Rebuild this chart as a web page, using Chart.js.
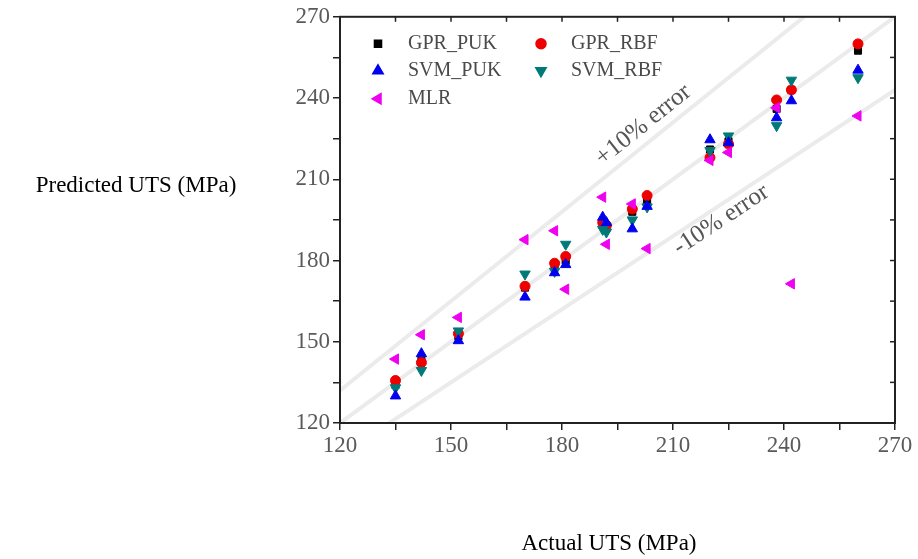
<!DOCTYPE html>
<html>
<head>
<meta charset="utf-8">
<script src="https://cdn.jsdelivr.net/npm/chart.js@4/dist/chart.umd.min.js"></script>
<style>
  html, body { margin: 0; padding: 0; background: #fff; }
  #wrap { width: 918px; height: 559px; position: relative; }
</style>
</head>
<body>
<div id="wrap"><canvas id="utsChart" width="918" height="559"></canvas></div>
<script>
// actual UTS of each test sample (x)
const actual = [135, 142, 152, 170, 178, 181, 191, 192, 199, 203, 220, 225, 238, 242, 260];

// predicted UTS per model (y)
const gprPuk = [134, 143, 152, 170, 178, 180, 193, 192, 198, 202, 221, 224, 236, 243, 257.5];
const gprRbf = [135.7, 142.3, 153, 170.5, 179, 181.5, 194, 193, 199, 204, 218, 223, 239.3, 243, 260];
const svmPuk = [130, 145.6, 150.4, 166.5, 175.5, 178.5, 196, 194, 191.7, 200, 224.6, 223.5, 232.7, 239, 250.3];
const svmRbf = [133, 139.4, 154, 175, 176, 186, 191.5, 190.5, 195, 199.8, 220.6, 226, 229.8, 246.6, 247.5];
const mlr = [143.6, 152.6, 159, 187.7, 191, 169.4, 203.4, 186, 200.9, 184.4, 217, 219.9, 236.4, 171.4, 233.4];

const axisMin = 120;
const axisMax = 270;
const errorBand = 0.1;

const yTitle = "Predicted UTS (MPa)";
const xTitle = "Actual UTS (MPa)";

function pts(ys) {
  return actual.map((x, i) => ({ x: x, y: ys[i] }));
}

function refLine(factor) {
  return [
    { x: axisMin, y: axisMin * factor },
    { x: axisMax, y: axisMax * factor },
  ];
}

const series = [
  { label: "GPR_PUK", data: pts(gprPuk), color: "#000000", style: "rect", rot: 0, r: 5, order: 5 },
  { label: "GPR_RBF", data: pts(gprRbf), color: "#ee0000", style: "circle", rot: 0, r: 5, order: 4 },
  { label: "SVM_PUK", data: pts(svmPuk), color: "#0000ee", style: "triangle", rot: 0, r: 6, order: 2 },
  { label: "SVM_RBF", data: pts(svmRbf), color: "#007a78", style: "triangle", rot: 180, r: 6, order: 3 },
  { label: "MLR", data: pts(mlr), color: "#f000f0", style: "triangle", rot: -90, r: 6, order: 1 },
];

const refLines = [1, 1 + errorBand, 1 - errorBand].map((f) => ({
  type: "line",
  data: refLine(f),
  borderColor: "#ebebeb",
  borderWidth: 4,
  pointRadius: 0,
  order: 10,
}));

const serif = "'Liberation Serif', 'Times New Roman', serif";

// legend + titles + annotations drawn by hand
const extras = {
  id: "extras",
  afterDraw(chart) {
    const ctx = chart.ctx;
    const a = chart.chartArea;
    const xs = chart.scales.x;
    const ys = chart.scales.y;

    // frame
    ctx.save();
    ctx.strokeStyle = "#222";
    ctx.lineWidth = 2;
    ctx.strokeRect(a.left, a.top, a.right - a.left, a.bottom - a.top);

    // inner ticks on top and right
    ctx.lineWidth = 1.5;
    for (let v = axisMin; v <= axisMax; v += 15) {
      const px = xs.getPixelForValue(v);
      ctx.beginPath();
      ctx.moveTo(px, a.top);
      ctx.lineTo(px, a.top + 5);
      ctx.stroke();
      const py = ys.getPixelForValue(v);
      ctx.beginPath();
      ctx.moveTo(a.right, py);
      ctx.lineTo(a.right - 5, py);
      ctx.stroke();
    }

    // legend, two columns
    const cols = [a.left + 38, a.left + 201];
    const rows = [a.top + 27, a.top + 54, a.top + 82];
    ctx.font = "20px " + serif;
    ctx.textBaseline = "middle";
    ctx.textAlign = "left";
    series.forEach((s, i) => {
      const cx = cols[i % 2];
      const cy = rows[Math.floor(i / 2)];
      ctx.fillStyle = s.color;
      ctx.strokeStyle = s.color;
      Chart.helpers.drawPoint(ctx, { pointStyle: s.style, radius: s.r, rotation: s.rot, borderWidth: 1 }, cx, cy);
      ctx.fillStyle = "#4a4a4a";
      ctx.fillText(s.label, cx + 30, cy);
    });

    // error labels along the bands
    ctx.fillStyle = "#555";
    ctx.textAlign = "center";
    const tags = [
      { text: "+10% error", x: 202, y: 230, f: 1 + errorBand, size: 25 },
      { text: "-10% error", x: 223, y: 195, f: 1 - errorBand, size: 25 },
    ];
    tags.forEach((t) => {
      const dx = xs.getPixelForValue(axisMax) - xs.getPixelForValue(axisMin);
      const dy = ys.getPixelForValue(axisMax * t.f) - ys.getPixelForValue(axisMin * t.f);
      ctx.save();
      ctx.font = t.size + "px " + serif;
      ctx.translate(xs.getPixelForValue(t.x), ys.getPixelForValue(t.y));
      ctx.rotate(Math.atan2(dy, dx));
      ctx.fillText(t.text, 0, 0);
      ctx.restore();
    });

    // axis titles
    ctx.fillStyle = "#000";
    ctx.font = "23px " + serif;
    ctx.textAlign = "center";
    ctx.fillText(yTitle, 136, 186);
    ctx.fillText(xTitle, 609, 544);
    ctx.restore();
  },
};

const tickFont = { family: serif, size: 23 };

new Chart(document.getElementById("utsChart"), {
  type: "scatter",
  data: {
    datasets: series
      .map((s) => ({
        label: s.label,
        data: s.data,
        backgroundColor: s.color,
        borderColor: s.color,
        pointStyle: s.style,
        rotation: s.rot,
        pointRadius: s.r,
        borderWidth: 1,
        order: s.order,
      }))
      .concat(refLines),
  },
  options: {
    responsive: false,
    animation: false,
    layout: { padding: { top: 13, right: 23, left: 0, bottom: 0 } },
    plugins: { legend: { display: false }, tooltip: { enabled: false } },
    scales: {
      x: {
        type: "linear",
        min: axisMin,
        max: axisMax,
        afterFit: (s) => { s.height = 136; },
        border: { display: true, color: "#222", width: 2 },
        grid: { drawOnChartArea: false, color: "#222", tickLength: 7, lineWidth: 1.5 },
        ticks: {
          stepSize: 15,
          color: "#5a5a5a",
          font: tickFont,
          padding: 2,
          maxRotation: 0,
          autoSkip: false,
          callback: (v) => ((v - axisMin) % 30 === 0 ? v : ""),
        },
      },
      y: {
        type: "linear",
        min: axisMin,
        max: axisMax,
        afterFit: (s) => { s.width = 340; },
        border: { display: true, color: "#222", width: 2 },
        grid: { drawOnChartArea: false, color: "#222", tickLength: 7, lineWidth: 1.5 },
        ticks: {
          stepSize: 15,
          color: "#5a5a5a",
          font: tickFont,
          padding: 3,
          autoSkip: false,
          callback: (v) => ((v - axisMin) % 30 === 0 ? v : ""),
        },
      },
    },
  },
  plugins: [extras],
});
</script>
</body>
</html>
